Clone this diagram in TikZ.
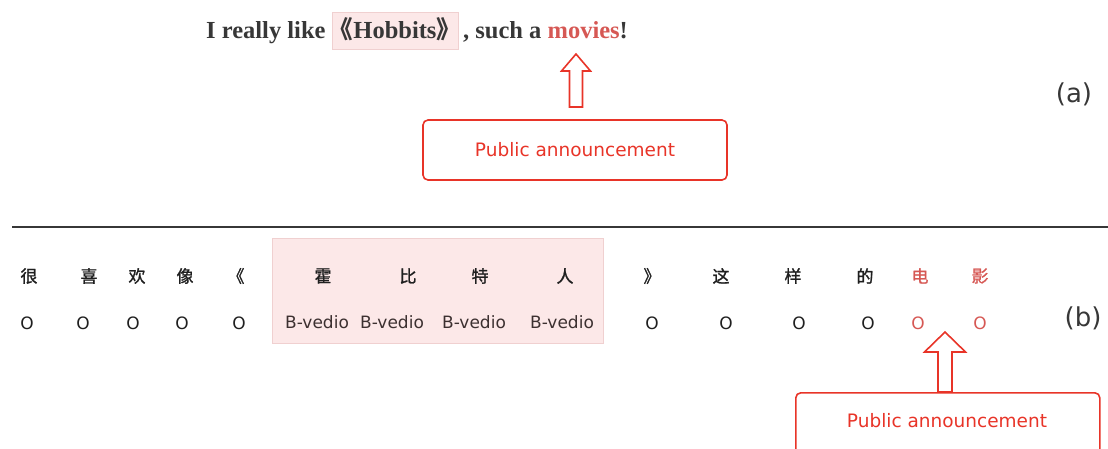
\documentclass[tikz,border=0pt]{standalone}
\usepackage{fontspec}
\setmainfont{Liberation Serif}
\setsansfont{DejaVu Sans}
\newfontfamily\cjk{Noto Sans CJK SC}
\newfontfamily\cjkb{Noto Sans CJK SC}[FakeBold=1.2]
\newfontfamily\labfont{DejaVu Sans}
\definecolor{pred}{RGB}{232,52,40}
\definecolor{tred}{RGB}{214,88,84}
\definecolor{pinkfill}{RGB}{252,232,232}
\definecolor{pinkline}{RGB}{240,208,208}
\definecolor{dgray}{RGB}{55,55,55}
\definecolor{bgray}{RGB}{60,48,48}
\tikzset{
  sent/.style={inner sep=0pt, font=\fontsize{24.5}{28}\selectfont\bfseries, text=dgray, anchor=base west},
  pubbox/.style={draw=pred, line width=1.6pt, rounded corners=5pt},
  pubtext/.style={text=pred, font=\labfont\fontsize{18.5}{22}\selectfont, inner sep=0pt},
  hollow/.style={draw=pred, line width=1.6pt, fill=white, line join=miter},
  zh/.style={font=\cjkb\fontsize{17}{20}\selectfont, text=black!88, inner sep=0pt},
  lab/.style={font=\labfont\fontsize{17}{20}\selectfont, text=black!88, inner sep=0pt},
  blab/.style={font=\labfont\fontsize{17}{20}\selectfont, text=bgray, inner sep=0pt},
  partlab/.style={font=\labfont\fontsize{26}{30}\selectfont, text=dgray, inner sep=0pt}
}
\begin{document}
\begin{tikzpicture}[x=1pt,y=-1pt]
\useasboundingbox (0,0) rectangle (1108,448);
% (a) sentence
\node[sent] (s1) at (206,38) {I really like};
\node[draw=pinkline, fill=pinkfill, line width=1pt, minimum width=126pt, minimum height=37pt, inner sep=0pt] (hb) at (395,30.5) {};
\node[sent, anchor=base] (hbt) at (395,38) {\kern-4pt{\cjk 《}Hobbits{\cjk 》}\kern-4pt};
\node[sent] (s2) at (463,38) {, such a \textcolor{tred}{movies}!};
\coordinate (t1) at (576,54);
\draw[hollow] (t1) -- ++(14.5,17) -- ++(-8,0) -- ++(0,36) -- ++(-13,0) -- ++(0,-36) -- ++(-8,0) -- cycle;
\node[pubbox, minimum width=304pt, minimum height=60pt] (pb1) at (575,150) {};
\node[pubtext] (pt1) at (pb1.center) {Public announcement};
\node[partlab] (pa) at (1074,94) {(a)};
% separator
\draw[line width=2.6pt, dgray] (12,227) coordinate (l0) -- (1108,227) coordinate (l1);
% (b)
\node[draw=pinkline, fill=pinkfill, line width=1pt, minimum width=331pt, minimum height=105pt] (pk) at (437.5,290.5) {};
\foreach \x/\c/\n in {29/很/c1,89/喜/c2,137/欢/c3,185/像/c4,236/《/c5,323/霍/c6,408/比/c7,480/特/c8,565/人/c9,652/》/c10,721/这/c11,793/样/c12,865/的/c13}
  \node[zh] (\n) at (\x,276) {\c};
\node[zh, text=tred] (c14) at (920,276) {电};
\node[zh, text=tred] (c15) at (980,276) {影};
\foreach \x/\n in {27/o1,83/o2,133/o3,182/o4,239/o5,652/o10,726/o11,799/o12,868/o13}
  \node[lab] (\n) at (\x,323) {O};
\node[lab, text=tred] (o14) at (918,323) {O};
\node[lab, text=tred] (o15) at (980,323) {O};
\foreach \x/\n in {317/o6,392/o7,474/o8,562/o9}
  \node[blab] (\n) at (\x,322) {B-vedio};
\node[partlab] (pbl) at (1083,318) {(b)};
\coordinate (t2) at (945,332);
\draw[hollow] (t2) -- ++(20.5,20) -- ++(-13.5,0) -- ++(0,40) -- ++(-14,0) -- ++(0,-40) -- ++(-13.5,0) -- cycle;
\node[pubbox, minimum width=304pt, minimum height=70pt, anchor=north west] (pb2) at (795,392) {};
\node[pubtext] (pt2) at (947,421) {Public announcement};
\end{tikzpicture}
\end{document}
